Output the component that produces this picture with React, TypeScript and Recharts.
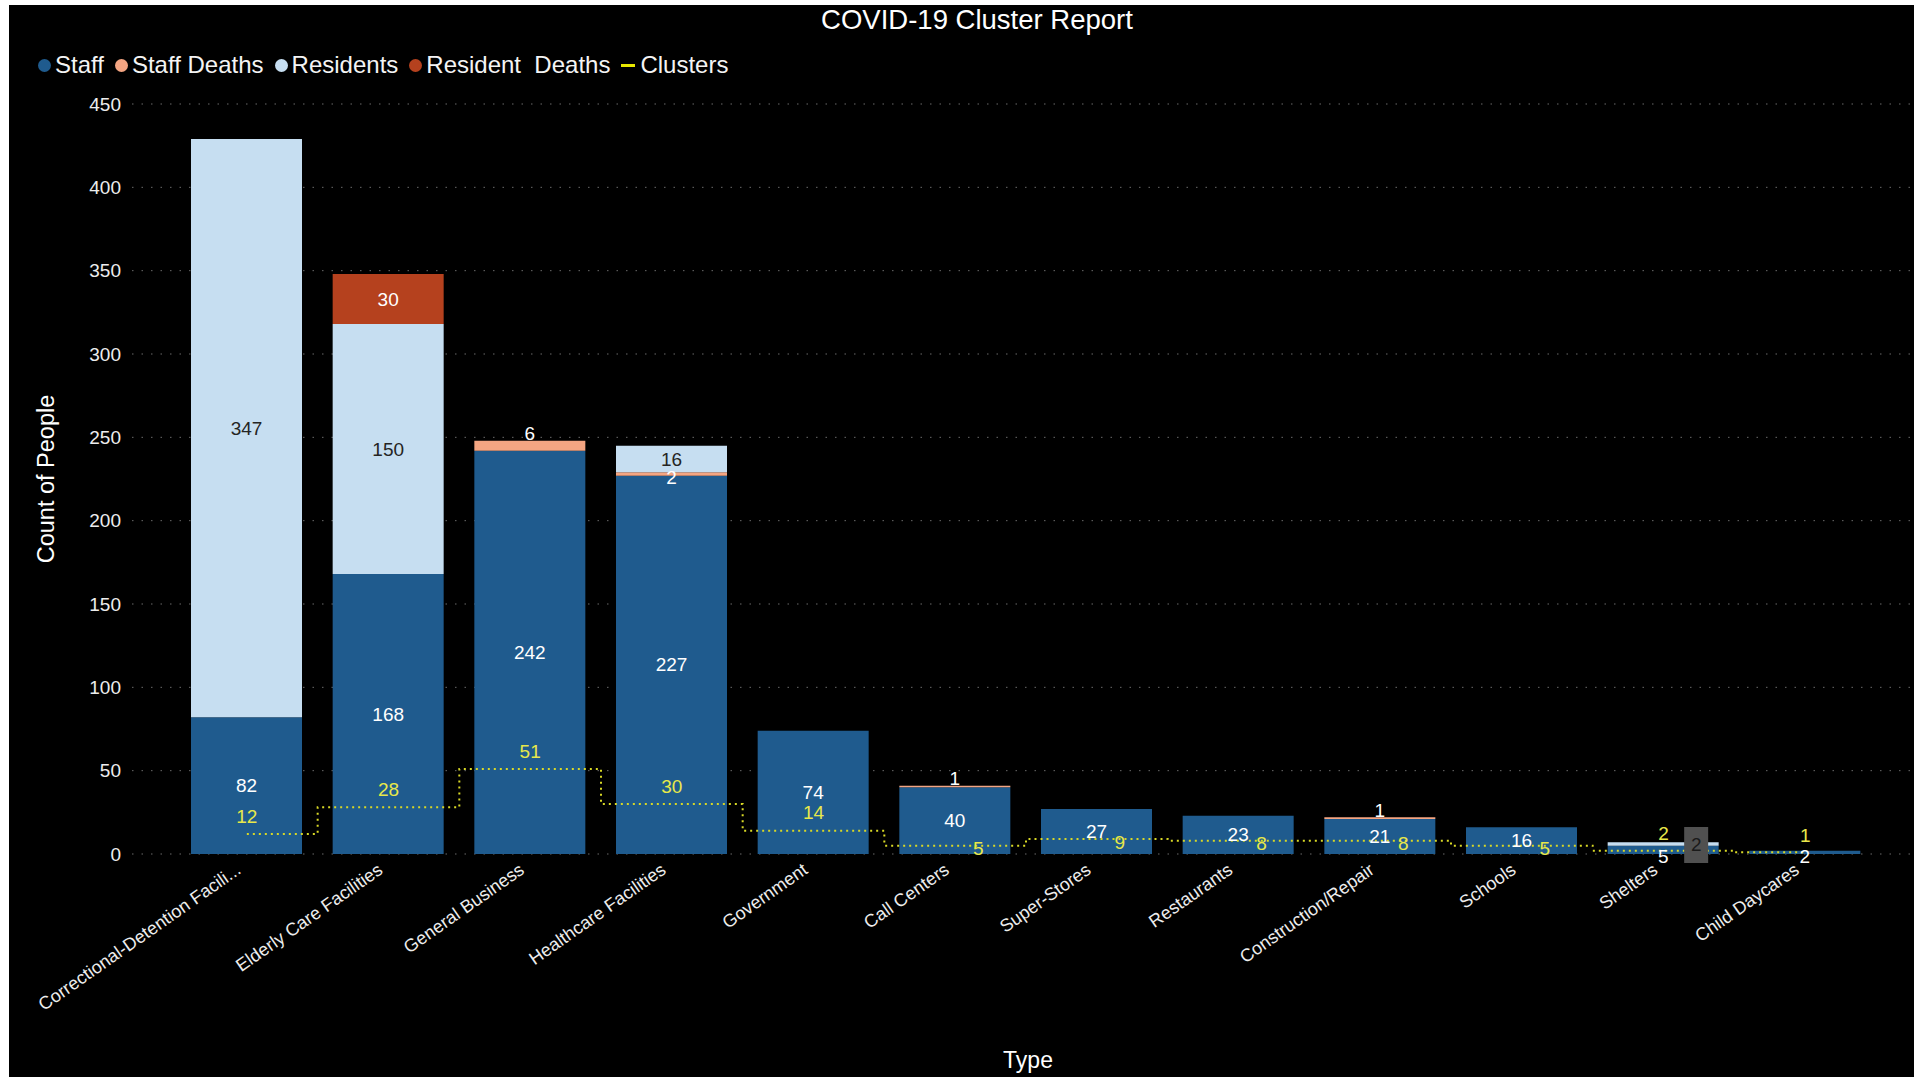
import React from 'react';
import { ComposedChart, Bar, Line, XAxis, YAxis, CartesianGrid, Legend, LabelList } from 'recharts';

const categories = [
  'Correctional-Detention Facili...',
  'Elderly Care Facilities',
  'General Business',
  'Healthcare Facilities',
  'Government',
  'Call Centers',
  'Super-Stores',
  'Restaurants',
  'Construction/Repair',
  'Schools',
  'Shelters',
  'Child Daycares',
];
const staff = [82, 168, 242, 227, 74, 40, 27, 23, 21, 16, 5, 2];
const staffDeaths = [0, 0, 6, 2, 0, 1, 0, 0, 1, 0, 0, 0];
const residents = [347, 150, 0, 16, 0, 0, 0, 0, 0, 0, 2, 0];
const residentDeaths = [0, 30, 0, 0, 0, 0, 0, 0, 0, 0, 0, 0];
const clusters = [12, 28, 51, 30, 14, 5, 9, 8, 8, 5, 2, 1];
const yTicks = [0, 50, 100, 150, 200, 250, 300, 350, 400, 450];
const legendOrder = ['Staff', 'Staff Deaths', 'Residents', 'Resident  Deaths', 'Clusters'];

const data = categories.map((type, i) => {
  const onTop = residents[i] + residentDeaths[i] === 0;
  return {
    type,
    staff: staff[i],
    staffDeaths: staffDeaths[i],
    residents: residents[i],
    residentDeaths: residentDeaths[i],
    clusters: clusters[i],
    sdAbove: onTop ? staffDeaths[i] : 0,
    sdInside: onTop ? 0 : staffDeaths[i],
    clusterInfo: `${clusters[i]}|${staff[i]}`,
  };
});

const W = 1905;
const H = 1072;
const TOP = 99;
const XAXIS_H = 223;
const Y_MAX = 450;
const PX = (H - TOP - XAXIS_H) / Y_MAX;

const FONT = '"Liberation Sans", Arial, sans-serif';
const C_STAFF = '#1F5B8E';
const C_STAFF_D = '#F4A582';
const C_RES = '#C6DEF1';
const C_RES_D = '#B5411E';
const C_CLUSTER = '#D8D826';
const C_CLUSTER_LBL = '#E8E84A';
const TXT = '#EDEDED';

const StaffLabel = (p: any) => {
  const { x, y, width, height, value } = p;
  if (!value) return null;
  const cx = x + width / 2;
  const cy = height >= 22 ? y + height / 2 : y + height + 2;
  return (
    <text x={cx} y={cy} textAnchor="middle" dominantBaseline="central" fill="#FFFFFF" fontSize={19} fontFamily={FONT}>
      {value}
    </text>
  );
};

const SDAboveLabel = (p: any) => {
  const { x, y, width, value } = p;
  if (!value) return null;
  return (
    <text x={x + width / 2} y={y - 7} textAnchor="middle" dominantBaseline="central" fill="#FFFFFF" fontSize={19} fontFamily={FONT}>
      {value}
    </text>
  );
};

const SDInsideLabel = (p: any) => {
  const { x, y, width, height, value } = p;
  if (!value) return null;
  return (
    <text x={x + width / 2} y={y + height / 2 + 3} textAnchor="middle" dominantBaseline="central" fill="#FFFFFF" fontSize={19} fontFamily={FONT}>
      {value}
    </text>
  );
};

const ResidentsLabel = (p: any) => {
  const { x, y, width, height, value } = p;
  if (!value) return null;
  const cx = x + width / 2;
  const cy = y + height / 2;
  if (height >= 18) {
    return (
      <text x={cx} y={cy} textAnchor="middle" dominantBaseline="central" fill="#252423" fontSize={19} fontFamily={FONT}>
        {value}
      </text>
    );
  }
  const bx = cx + 33;
  return (
    <g>
      <rect x={bx - 12} y={cy - 17} width={24} height={36} fill="#505050" />
      <text x={bx} y={cy} textAnchor="middle" dominantBaseline="central" fill="#1A1A1A" fontSize={19} fontFamily={FONT}>
        {value}
      </text>
    </g>
  );
};

const ResDeathsLabel = (p: any) => {
  const { x, y, width, height, value } = p;
  if (!value) return null;
  return (
    <text x={x + width / 2} y={y + height / 2} textAnchor="middle" dominantBaseline="central" fill="#FFFFFF" fontSize={19} fontFamily={FONT}>
      {value}
    </text>
  );
};

const ClusterLabel = (p: any) => {
  const { x, y, value } = p;
  if (value == null) return null;
  const [cStr, sStr] = String(value).split('|');
  const c = Number(cStr);
  const s = Number(sStr);
  const staffPx = s * PX;
  let lx = x;
  let ly = y - 18;
  if (staffPx >= 22) {
    const diff = (s / 2 - c) * PX;
    if (diff < 30) {
      lx = x + 23;
      ly = y + 3;
    }
  } else {
    ly = y - 17;
  }
  return (
    <text x={lx} y={ly} textAnchor="middle" dominantBaseline="central" fill={C_CLUSTER_LBL} fontSize={19} fontFamily={FONT}>
      {c}
    </text>
  );
};

const XTick = (p: any) => {
  const { x, y, payload } = p;
  return (
    <text
      transform={`translate(${x - 12},${y + 6}) rotate(-35)`}
      textAnchor="end"
      dy="0.71em"
      fill={TXT}
      fontSize={18}
      fontFamily={FONT}
    >
      {payload.value}
    </text>
  );
};

const YTitle = (p: any) => {
  const vb = p.viewBox || {};
  const cy = vb.y + vb.height / 2;
  return (
    <text
      transform={`translate(37,${cy}) rotate(-90)`}
      textAnchor="middle"
      dominantBaseline="central"
      fill="#FFFFFF"
      fontSize={23.5}
      fontFamily={FONT}
    >
      Count of People
    </text>
  );
};

const XTitle = (p: any) => {
  const vb = p.viewBox || {};
  return (
    <text
      x={vb.x + vb.width / 2 + 5}
      y={vb.y + 206}
      textAnchor="middle"
      dominantBaseline="central"
      fill="#FFFFFF"
      fontSize={23}
      fontFamily={FONT}
    >
      Type
    </text>
  );
};

const LegendContent = (p: any) => {
  const raw = p.payload || [];
  const items = legendOrder
    .map((name) => raw.find((it: any) => it.value === name))
    .filter(Boolean);
  return (
    <div style={{ display: 'flex', alignItems: 'center', fontFamily: FONT, fontSize: 24, color: '#F4F4F4', whiteSpace: 'nowrap' }}>
      {items.map((it: any) => (
        <div key={it.value} style={{ display: 'flex', alignItems: 'center', marginRight: 11 }}>
          {it.type === 'line' ? (
            <span style={{ display: 'inline-block', width: 14, height: 3, background: '#E8E800', marginRight: 5 }} />
          ) : (
            <span style={{ display: 'inline-block', width: 13, height: 13, borderRadius: 7, background: it.color, marginRight: 4 }} />
          )}
          <span style={{ whiteSpace: 'pre' }}>{it.value}</span>
        </div>
      ))}
    </div>
  );
};

export default function App() {
  return (
    <div style={{ position: 'fixed', left: 9, top: 5, width: W, height: H, background: '#000000', overflow: 'hidden' }}>
      <div
        style={{
          position: 'absolute',
          left: 968,
          top: 15,
          transform: 'translate(-50%, -50%)',
          color: '#FFFFFF',
          fontFamily: FONT,
          fontSize: 27.5,
          whiteSpace: 'nowrap',
        }}
      >
        COVID-19 Cluster Report
      </div>
      <ComposedChart width={W} height={H} data={data} margin={{ top: TOP, right: 0, bottom: 0, left: 0 }}>
        <CartesianGrid vertical={false} stroke="#6A6A6A" strokeDasharray="1.5 8" />
        <XAxis
          dataKey="type"
          axisLine={false}
          tickLine={false}
          interval={0}
          tick={<XTick />}
          height={XAXIS_H}
          tickSize={0}
          padding={{ left: 44, right: 38 }}
          label={<XTitle />}
        />
        <YAxis
          domain={[0, Y_MAX]}
          ticks={yTicks}
          axisLine={false}
          tickLine={false}
          tickSize={0}
          tickMargin={11}
          width={123}
          tick={{ fill: TXT, fontSize: 19, fontFamily: FONT }}
          label={<YTitle />}
        />
        <Legend
          layout="horizontal"
          verticalAlign="middle"
          align="center"
          content={<LegendContent />}
          wrapperStyle={{ top: 46, left: 29, width: 'auto' }}
        />
        <Bar dataKey="staff" name="Staff" stackId="a" fill={C_STAFF} barSize={111} legendType="circle" isAnimationActive={false}>
          <LabelList dataKey="staff" content={<StaffLabel />} />
        </Bar>
        <Bar dataKey="staffDeaths" name="Staff Deaths" stackId="a" fill={C_STAFF_D} barSize={111} legendType="circle" isAnimationActive={false}>
          <LabelList dataKey="sdAbove" content={<SDAboveLabel />} />
          <LabelList dataKey="sdInside" content={<SDInsideLabel />} />
        </Bar>
        <Bar dataKey="residents" name="Residents" stackId="a" fill={C_RES} barSize={111} legendType="circle" isAnimationActive={false}>
          <LabelList dataKey="residents" content={<ResidentsLabel />} />
        </Bar>
        <Bar dataKey="residentDeaths" name="Resident  Deaths" stackId="a" fill={C_RES_D} barSize={111} legendType="circle" isAnimationActive={false}>
          <LabelList dataKey="residentDeaths" content={<ResDeathsLabel />} />
        </Bar>
        <Line
          type="step"
          dataKey="clusters"
          name="Clusters"
          stroke={C_CLUSTER}
          strokeWidth={2}
          strokeDasharray="2 4"
          dot={false}
          activeDot={false}
          legendType="line"
          isAnimationActive={false}
        >
          <LabelList dataKey="clusterInfo" content={<ClusterLabel />} />
        </Line>
      </ComposedChart>
    </div>
  );
}
